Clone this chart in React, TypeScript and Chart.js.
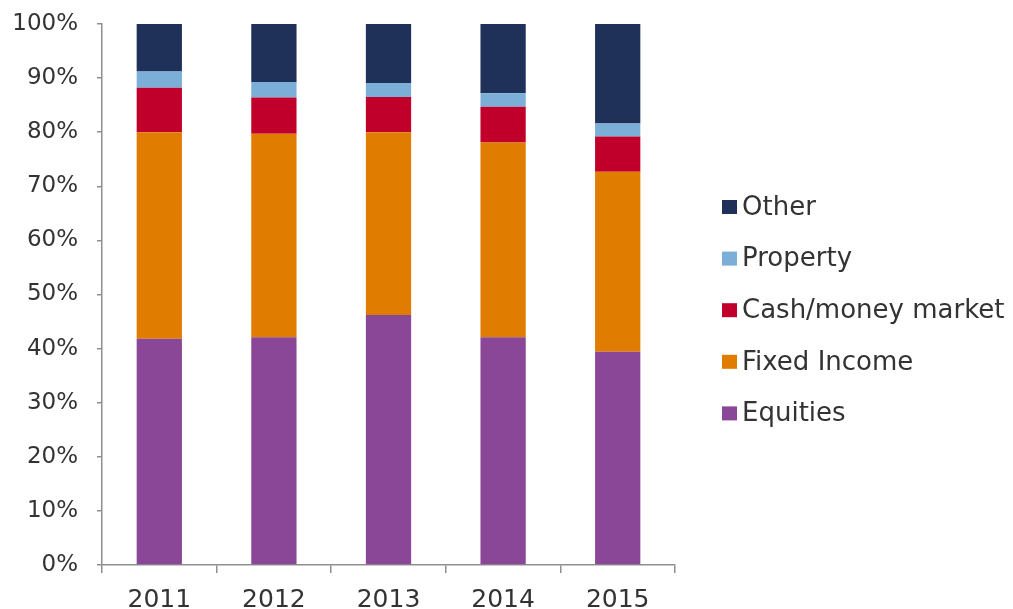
import React, { useEffect, useRef } from "react";
import { Chart, registerables } from "chart.js";

Chart.register(...registerables);

const years = ["2011", "2012", "2013", "2014", "2015"];
const seriesNames = ["Equities", "Fixed Income", "Cash/money market", "Property", "Other"];
const equities = [41.8, 42.1, 46.2, 42.1, 39.4];
const fixedIncome = [38.2, 37.6, 33.8, 36.0, 33.3];
const cashMoneyMarket = [8.2, 6.7, 6.5, 6.6, 6.5];
const property = [3.0, 2.9, 2.6, 2.5, 2.4];
const other = [8.8, 10.7, 10.9, 12.8, 18.4];
const seriesColors = ["#8B4797", "#E07C00", "#C0002A", "#7BAFD7", "#1F3159"];

const FONT = "'DejaVu Sans', Verdana, sans-serif";
const TEXT = "#333333";
const AXIS = "#8f8f8f";

const legendPlugin = {
  id: "customLegend",
  afterDraw(chart: any) {
    const ctx = chart.ctx;
    const ds = chart.data.datasets;
    ctx.save();
    ctx.font = `26px ${FONT}`;
    ctx.textBaseline = "middle";
    ctx.textAlign = "left";
    const order = ds.map((_: any, i: number) => i).reverse();
    order.forEach((idx: number, k: number) => {
      const cy = 207 + k * 51.6;
      ctx.fillStyle = ds[idx].backgroundColor;
      ctx.fillRect(722, cy - 7, 15, 14);
      ctx.fillStyle = TEXT;
      ctx.fillText(ds[idx].label, 742, cy + 1);
    });
    ctx.restore();
  },
};

export default function App() {
  const ref = useRef<HTMLCanvasElement | null>(null);
  useEffect(() => {
    const values = [equities, fixedIncome, cashMoneyMarket, property, other];
    const chart = new Chart(ref.current as HTMLCanvasElement, {
      type: "bar",
      data: {
        labels: years,
        datasets: values.map((v, i) => ({
          label: seriesNames[i],
          data: v,
          backgroundColor: seriesColors[i],
          borderWidth: 0,
          categoryPercentage: 1,
          barPercentage: 0.395,
        })),
      },
      options: {
        animation: false,
        responsive: true,
        maintainAspectRatio: false,
        layout: { padding: { top: 24, right: 338, left: 0, bottom: 0 } },
        plugins: { legend: { display: false }, tooltip: { enabled: false } },
        scales: {
          x: {
            stacked: true,
            grid: { drawOnChartArea: false, drawTicks: true, tickLength: 8, color: AXIS, lineWidth: 1.5, offset: true },
            border: { color: AXIS, width: 1.5 },
            ticks: { color: TEXT, font: { family: FONT, size: 25 }, padding: 12, maxRotation: 0 },
            afterFit: (s: any) => { s.height = 44; s.paddingLeft = 0; s.paddingRight = 0; },
          },
          y: {
            stacked: true,
            min: 0,
            max: 100,
            grid: { drawOnChartArea: false, drawTicks: true, tickLength: 5, color: AXIS, lineWidth: 1.5 },
            border: { color: AXIS, width: 1.5 },
            ticks: {
              stepSize: 10,
              color: TEXT,
              font: { family: FONT, size: 23 },
              padding: 19,
              callback: (v: any) => `${v}%`,
            },
            afterFit: (s: any) => { s.width = 102; s.paddingTop = 0; s.paddingBottom = 0; },
          },
        },
      },
      plugins: [legendPlugin],
    });
    return () => chart.destroy();
  }, []);
  return (
    <div style={{ position: "fixed", left: 0, top: 0, width: 1013, height: 609, background: "#fff" }}>
      <canvas ref={ref} />
    </div>
  );
}
